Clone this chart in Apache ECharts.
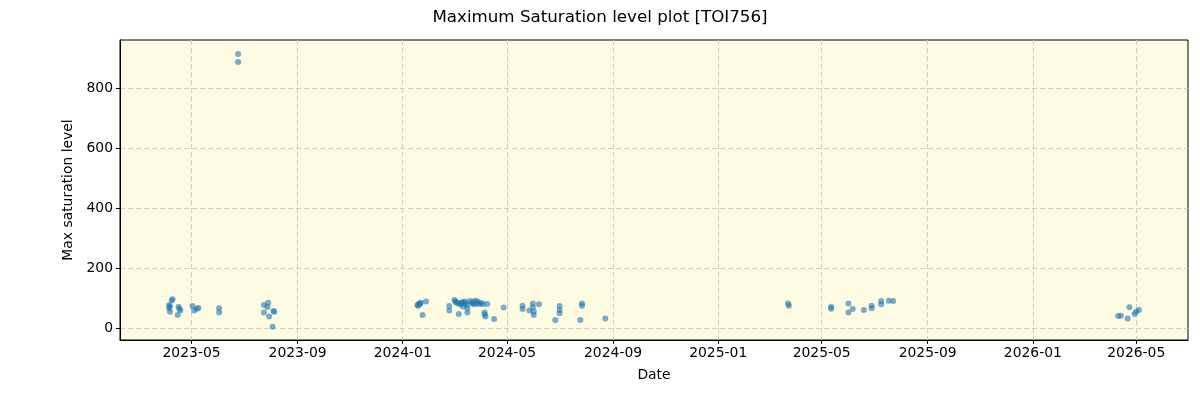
<!DOCTYPE html>
<html lang="en">
<head>
	<meta charset="UTF-8">
	<title>Maximum Saturation level plot [TOI756]</title>
	<script src="https://cdn.jsdelivr.net/npm/echarts@6/dist/echarts.min.js"></script>
	<style>
		html, body { margin: 0; padding: 0; background: #fff; }
		.box { width: 1200px; height: 400px; }
	</style>
</head>
<body>
	<div class="box" id="chart"></div>

	<script>
		let obsDates = [
			'2023-04-05', '2023-04-05', '2023-04-06', '2023-04-09', '2023-04-16', '2023-04-18', '2023-04-15',
			'2023-04-08', '2023-04-17', '2023-04-06',
			'2023-05-02', '2023-05-04', '2023-05-09', '2023-05-07', '2023-06-02', '2023-06-02', '2023-06-24', '2023-06-24',
			'2023-07-24', '2023-07-24', '2023-07-29', '2023-07-30', '2023-08-03', '2023-08-05', '2023-07-28', '2023-08-04',
			'2024-01-18', '2024-01-20', '2024-01-22', '2024-01-24', '2024-01-28', '2024-01-19', '2024-01-21',
			'2024-02-24', '2024-02-24',
			'2024-03-01', '2024-03-05', '2024-03-06', '2024-03-09', '2024-03-13', '2024-03-15', '2024-03-16',
			'2024-03-16', '2024-03-21', '2024-03-25', '2024-03-27', '2024-03-30', '2024-04-03', '2024-04-08',
			'2024-04-05', '2024-04-06', '2024-04-16', '2024-04-27', '2024-03-03', '2024-03-11', '2024-03-19',
			'2024-03-02', '2024-03-08', '2024-03-10', '2024-03-14', '2024-03-22', '2024-03-24', '2024-03-28',
			'2024-04-01', '2024-04-05',
			'2024-05-19', '2024-05-19', '2024-05-27', '2024-05-31', '2024-05-31', '2024-06-01', '2024-06-01',
			'2024-06-07', '2024-06-26', '2024-07-01', '2024-07-01', '2024-07-01', '2024-07-25', '2024-07-27',
			'2024-07-27', '2024-08-23',
			'2025-03-23', '2025-03-24', '2025-05-12', '2025-05-12', '2025-06-01', '2025-06-01', '2025-06-06',
			'2025-06-19', '2025-06-28', '2025-06-28', '2025-07-09', '2025-07-09', '2025-07-18', '2025-07-23',
			'2026-04-10', '2026-04-13', '2026-04-21', '2026-04-23', '2026-04-29', '2026-05-01', '2026-05-04'
		];
		let maxSat = [
			77, 66, 54, 96, 71, 58, 43,
			92, 64, 72,
			73, 58, 67, 64, 66, 52, 913, 887,
			77, 52, 84, 38, 4, 54, 70, 57,
			77, 82, 84, 43, 88, 74, 80,
			73, 58,
			93, 82, 47, 84, 88, 77, 66,
			52, 82, 91, 82, 80, 80, 80,
			52, 38, 30, 68, 86, 72, 90,
			88, 78, 86, 83, 86, 79, 88,
			83, 45,
			74, 63, 58, 82, 69, 54, 43,
			79, 27, 73, 60, 49, 27, 82,
			74, 32,
			82, 74, 71, 64, 82, 52, 63,
			60, 74, 66, 90, 79, 91, 90,
			40, 41, 32, 69, 47, 54, 60
		];

		let xTicks = ['2023-05-01', '2023-09-01', '2024-01-01', '2024-05-01', '2024-09-01',
			'2025-01-01', '2025-05-01', '2025-09-01', '2026-01-01', '2026-05-01'];
		let yTicks = [0, 200, 400, 600, 800];
		let xRange = ['2023-02-07', '2026-06-30'];
		let yRange = [-40, 960];

		let ts = s => new Date(s + 'T00:00:00Z').getTime();
		let pad = n => (n < 10 ? '0' : '') + n;
		let fmtMonth = v => {
			let d = new Date(v);
			return d.getUTCFullYear() + '-' + pad(d.getUTCMonth() + 1);
		};

		let font = 'DejaVu Sans';
		let chart = echarts.init(document.getElementById('chart'));

		let option = {
			animation: false,
			backgroundColor: '#ffffff',
			title: {
				text: 'Maximum Saturation level plot [TOI756]',
				left: 'center',
				top: 4,
				textStyle: { fontFamily: font, fontSize: 16.7, fontWeight: 'normal', color: '#000' }
			},
			grid: {
				left: 120, right: 12, top: 40, bottom: 60,
				show: true,
				backgroundColor: '#fdfce3',
				borderColor: '#000',
				borderWidth: 1
			},
			xAxis: {
				type: 'value',
				min: ts(xRange[0]),
				max: ts(xRange[1]),
				name: 'Date',
				nameLocation: 'middle',
				nameGap: 28,
				nameTextStyle: { fontFamily: font, fontSize: 13.9, color: '#000' },
				axisLine: { show: true, onZero: false, lineStyle: { color: '#000', width: 1 } },
				axisTick: { show: true, length: 4, lineStyle: { color: '#000' }, customValues: xTicks.map(ts) },
				axisLabel: {
					fontFamily: font, fontSize: 13.9, color: '#000', margin: 6,
					customValues: xTicks.map(ts),
					formatter: v => fmtMonth(v)
				},
				splitLine: { show: true, lineStyle: { color: '#cfcfcf', type: [5, 3], width: 1 } }
			},
			yAxis: {
				type: 'value',
				min: yRange[0],
				max: yRange[1],
				name: 'Max saturation level',
				nameLocation: 'middle',
				nameRotate: 90,
				nameGap: 41,
				nameTextStyle: { fontFamily: font, fontSize: 13.9, color: '#000' },
				axisLine: { show: true, onZero: false, lineStyle: { color: '#000', width: 1 } },
				axisTick: { show: true, length: 4, lineStyle: { color: '#000' }, customValues: yTicks },
				axisLabel: { fontFamily: font, fontSize: 13.9, color: '#000', margin: 7, customValues: yTicks },
				splitLine: { show: true, lineStyle: { color: '#cfcfcf', type: [5, 3], width: 1 } }
			},
			series: [{
				type: 'scatter',
				symbolSize: 6,
				itemStyle: { color: '#1f77b4', opacity: 0.6 },
				data: obsDates.map((d, i) => [ts(d), maxSat[i]])
			}]
		};
		chart.setOption(option);
	</script>
</body>
</html>
